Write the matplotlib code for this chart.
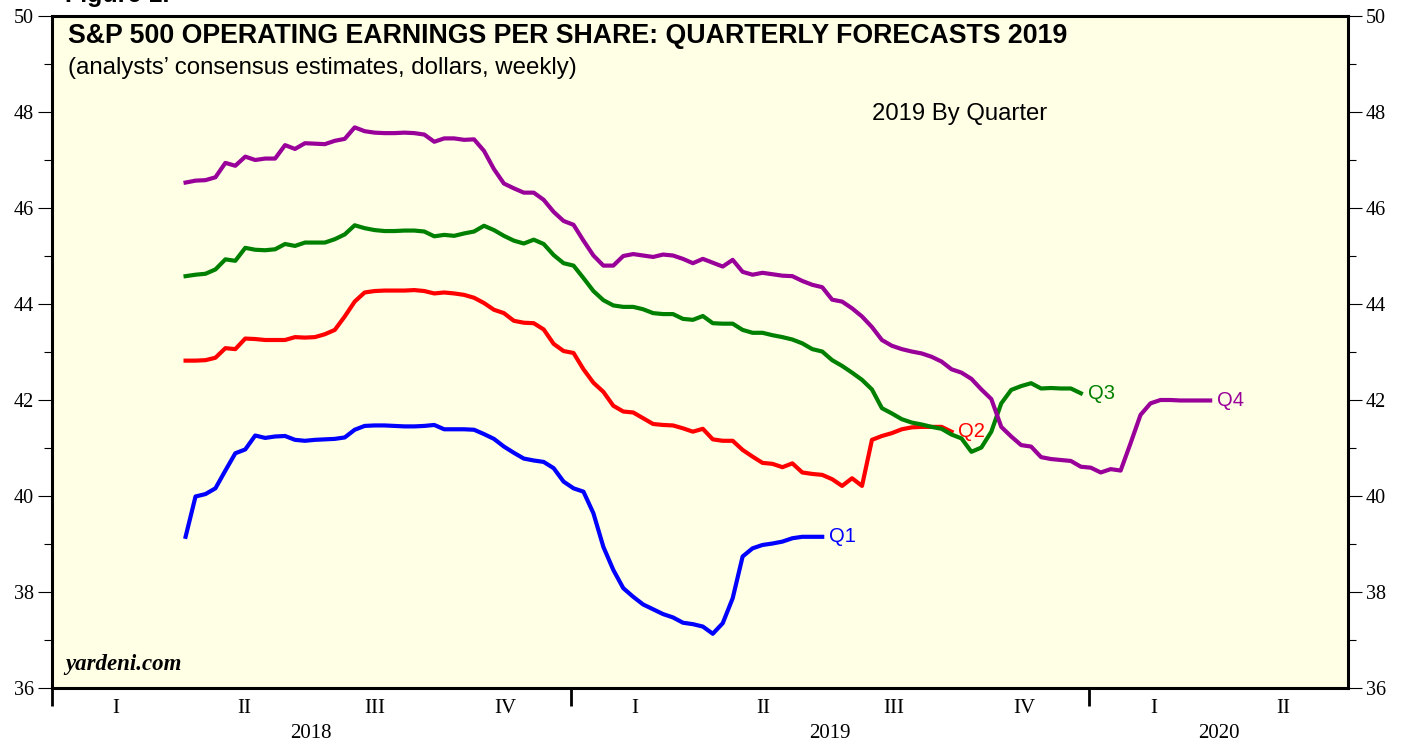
import matplotlib
matplotlib.use("Agg")
from matplotlib import pyplot as plt
from matplotlib.ticker import MultipleLocator
import pandas as pd

# weekly consensus estimates, first observation 2018-04-05
start = "2018-04-05"

q1 = [39.15, 39.99, 40.04, 40.16, 40.53, 40.89, 40.97, 41.26, 41.21, 41.24,
      41.25, 41.17, 41.15, 41.17, 41.18, 41.19, 41.22, 41.38, 41.46, 41.47,
      41.47, 41.46, 41.45, 41.45, 41.46, 41.48, 41.39, 41.39, 41.39, 41.38,
      41.29, 41.19, 41.03, 40.90, 40.78, 40.74, 40.71, 40.58, 40.30, 40.16,
      40.09, 39.64, 38.94, 38.46, 38.08, 37.90, 37.74, 37.64, 37.54, 37.47,
      37.36, 37.33, 37.28, 37.13, 37.35, 37.87, 38.74, 38.91, 38.98, 39.01,
      39.05, 39.12, 39.15, 39.15, 39.15]

q2 = [42.82, 42.82, 42.83, 42.88, 43.08, 43.06, 43.28, 43.27, 43.25, 43.25,
      43.25, 43.31, 43.30, 43.31, 43.37, 43.46, 43.74, 44.05, 44.24, 44.27,
      44.28, 44.28, 44.28, 44.29, 44.27, 44.22, 44.24, 44.22, 44.19, 44.13,
      44.02, 43.88, 43.81, 43.65, 43.61, 43.60, 43.47, 43.17, 43.02, 42.98,
      42.64, 42.36, 42.17, 41.88, 41.76, 41.74, 41.62, 41.50, 41.48, 41.47,
      41.41, 41.34, 41.40, 41.18, 41.15, 41.15, 40.96, 40.82, 40.69, 40.67,
      40.60, 40.68, 40.49, 40.46, 40.44, 40.35, 40.21, 40.37, 40.21, 41.17,
      41.25, 41.31, 41.39, 41.43, 41.44, 41.44, 41.44, 41.34]

q3 = [44.58, 44.61, 44.63, 44.72, 44.93, 44.90, 45.17, 45.13, 45.12, 45.14,
      45.25, 45.21, 45.28, 45.28, 45.28, 45.35, 45.45, 45.64, 45.58, 45.54,
      45.52, 45.52, 45.53, 45.53, 45.51, 45.41, 45.44, 45.42, 45.47, 45.51,
      45.63, 45.54, 45.42, 45.32, 45.26, 45.34, 45.25, 45.02, 44.85, 44.80,
      44.54, 44.27, 44.08, 43.97, 43.94, 43.94, 43.89, 43.81, 43.79, 43.79,
      43.69, 43.67, 43.75, 43.60, 43.59, 43.59, 43.46, 43.40, 43.40, 43.35,
      43.31, 43.26, 43.18, 43.06, 43.01, 42.83, 42.71, 42.57, 42.42, 42.22,
      41.83, 41.72, 41.60, 41.53, 41.49, 41.44, 41.40, 41.28, 41.20, 40.92,
      41.01, 41.34, 41.93, 42.21, 42.29, 42.35, 42.24, 42.25, 42.24, 42.24,
      42.14]

q4 = [46.53, 46.57, 46.58, 46.64, 46.94, 46.88, 47.07, 47.00, 47.03, 47.03,
      47.31, 47.23, 47.35, 47.34, 47.33, 47.40, 47.44, 47.68, 47.60, 47.57,
      47.56, 47.56, 47.57, 47.56, 47.53, 47.38, 47.45, 47.45, 47.42, 47.43,
      47.19, 46.81, 46.51, 46.41, 46.32, 46.32, 46.17, 45.92, 45.73, 45.65,
      45.32, 45.01, 44.80, 44.80, 45.00, 45.04, 45.01, 44.98, 45.03, 45.01,
      44.94, 44.85, 44.94, 44.86, 44.78, 44.92, 44.67, 44.61, 44.65, 44.62,
      44.59, 44.58, 44.48, 44.40, 44.35, 44.09, 44.05, 43.91, 43.74, 43.52,
      43.25, 43.13, 43.06, 43.01, 42.97, 42.90, 42.80, 42.64, 42.57, 42.44,
      42.22, 42.02, 41.44, 41.24, 41.06, 41.03, 40.81, 40.77, 40.75, 40.73,
      40.61, 40.59, 40.49, 40.56, 40.53, 41.10, 41.69, 41.93, 42.00, 42.00,
      41.99, 41.99, 41.99, 41.99]

series = [("Q1", q1, "#0000ff"), ("Q2", q2, "#ff0000"),
          ("Q3", q3, "#008000"), ("Q4", q4, "#990099")]

quarter_names = ["I", "II", "III", "IV"]
years = ["2018", "2019", "2020"]

serif = ["Liberation Serif", "DejaVu Serif"]
sans = ["Liberation Sans", "DejaVu Sans"]

fig = plt.figure(figsize=(14.07, 7.44), dpi=100)
ax = fig.add_axes([52 / 1407, 1 - 688 / 744, 1296 / 1407, 672 / 744])
ax.set_facecolor("#ffffe6")

for name, vals, col in series:
    dates = pd.date_range(start, periods=len(vals), freq="7D")
    ax.plot(dates, vals, color=col, lw=3, solid_joinstyle="round", zorder=3)
    ax.annotate(name, (dates[-1], vals[-1]), xytext=(5, 0), textcoords="offset points",
                color=col, fontsize=14.5, family=sans, va="center", ha="left", zorder=2)

x0, x1 = pd.Timestamp("2018-01-01"), pd.Timestamp("2020-07-01")
ax.set_xlim(x0, x1)
ax.set_ylim(36, 50)

# y axis: both sides
ax.yaxis.set_major_locator(MultipleLocator(2))
ax.yaxis.set_minor_locator(MultipleLocator(1))
ax.tick_params(axis="y", which="both", direction="out", left=True, right=True,
               labelleft=True, labelright=True, width=0.8, labelsize=14.5, pad=3)
ax.tick_params(axis="y", which="major", length=10)
ax.tick_params(axis="y", which="minor", length=5.5)
for lab in ax.get_yticklabels():
    lab.set_family(serif)

# x axis: year separators + quarter labels
qs = pd.date_range(x0, x1, freq="QS")
mids = [a + (b - a) / 2 for a, b in zip(qs[:-1], qs[1:])]
ax.set_xticks(pd.to_datetime(["2018-01-01", "2019-01-01", "2020-01-01"]))
ax.set_xticklabels([])
ax.set_xticks(mids, minor=True)
ax.set_xticklabels([quarter_names[i % 4] for i in range(len(mids))], minor=True,
                   family=serif, fontsize=15)
ax.tick_params(axis="x", which="major", direction="out", length=13, width=2)
ax.tick_params(axis="x", which="minor", length=0, pad=8)

# year labels centred on the visible part of each year
for y in years:
    a = max(pd.Timestamp(f"{y}-01-01"), x0)
    b = min(pd.Timestamp(f"{int(y) + 1}-01-01"), x1)
    ax.text(a + (b - a) / 2, -0.067, y, transform=ax.get_xaxis_transform(),
            ha="center", va="center", family=serif, fontsize=15)

for s in ax.spines.values():
    s.set_linewidth(2.2)

ax.text(0.012, 0.97, "S&P 500 OPERATING EARNINGS PER SHARE: QUARTERLY FORECASTS 2019",
        transform=ax.transAxes, family=sans, fontweight="bold", fontsize=19.3, va="center")
ax.text(0.012, 0.922, "(analysts\u2019 consensus estimates, dollars, weekly)",
        transform=ax.transAxes, family=sans, fontsize=17.3, va="center")
ax.text(0.633, 0.854, "2019 By Quarter", transform=ax.transAxes, family=sans,
        fontsize=17.2, va="center")
ax.text(0.01, 0.02, "yardeni.com", transform=ax.transAxes, family=serif,
        fontweight="bold", fontstyle="italic", fontsize=16.5, va="bottom")

fig.text(0.046, 0.997, "Figure 1.", family=sans, fontweight="bold", fontsize=18,
         va="baseline")

fig.savefig("out.png", dpi=100, facecolor="white")
